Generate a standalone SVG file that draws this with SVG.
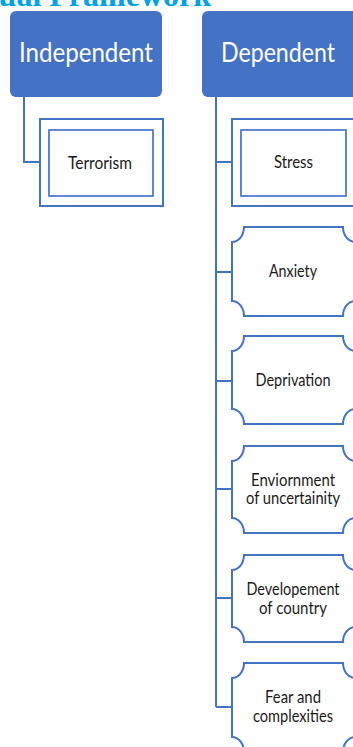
<svg xmlns="http://www.w3.org/2000/svg" width="353" height="747" viewBox="0 0 353 747">
<style>
.hdr{fill:#4472C4}
.ht{fill:#FFFFFF;font-family:Lato,"Noto Sans",sans-serif;font-size:26px;text-anchor:middle}
.box{fill:#FFFFFF;stroke:#4472C4;stroke-width:2}
.inner{fill:none;stroke:#4F7ACB;stroke-width:1.8}
.t{fill:#1A1A1A;font-family:Lato,"Noto Sans",sans-serif;font-size:17px;text-anchor:middle}
.ln{fill:none;stroke:#4472C4;stroke-width:2}
.title{fill:#00A2E8;font-family:"Liberation Serif",serif;font-weight:bold;font-size:32px;text-anchor:end}
</style>
<rect width="353" height="747" fill="#FFFFFF"/>
<text class="title" x="211" y="6">ual Framework</text>
<g id="connectors">
<path class="ln" d="M24,97 V162 H40"/>
<path class="ln" d="M216,97 V707 M216,162 H232 M216,272 H232 M216,381 H232 M216,489 H232 M216,598 H232 M216,707 H232"/>
</g>
<g id="independent">
<rect class="hdr" x="10" y="11" width="152" height="86" rx="6"/>
<text class="ht" x="86" y="62" textLength="134" lengthAdjust="spacingAndGlyphs">Independent</text>
</g>
<g id="dependent">
<rect class="hdr" x="202" y="11" width="156" height="86" rx="6"/>
<text class="ht" x="278" y="62" textLength="114" lengthAdjust="spacingAndGlyphs">Dependent</text>
</g>
<g id="terrorism">
<rect class="box" x="40" y="119" width="123" height="87"/>
<rect class="inner" x="49" y="130" width="104" height="66"/>
<text class="t" x="100" y="169" textLength="64" lengthAdjust="spacingAndGlyphs">Terrorism</text>
</g>
<g id="stress">
<rect class="box" x="232" y="119" width="123" height="87"/>
<rect class="inner" x="241" y="130" width="105" height="66"/>
<text class="t" x="293.5" y="168" textLength="39" lengthAdjust="spacingAndGlyphs">Stress</text>
</g>
<g id="anxiety">
<path class="box" d="M244,227 H343 A12,15 0 0 0 355,242 V301 A12,15 0 0 0 343,316 H244 A12,15 0 0 0 232,301 V242 A12,15 0 0 0 244,227 Z"/>
<text class="t" x="293" y="277" textLength="48" lengthAdjust="spacingAndGlyphs">Anxiety</text>
</g>
<g id="deprivation">
<path class="box" d="M244,336 H343 A12,15 0 0 0 355,351 V409 A12,15 0 0 0 343,424 H244 A12,15 0 0 0 232,409 V351 A12,15 0 0 0 244,336 Z"/>
<text class="t" x="293" y="386" textLength="75" lengthAdjust="spacingAndGlyphs">Deprivation</text>
</g>
<g id="environment">
<path class="box" d="M244,446 H343 A12,15 0 0 0 355,461 V518 A12,15 0 0 0 343,533 H244 A12,15 0 0 0 232,518 V461 A12,15 0 0 0 244,446 Z"/>
<text class="t" x="293" y="485.5" textLength="84" lengthAdjust="spacingAndGlyphs">Enviornment</text>
<text class="t" x="293" y="503.5" textLength="94" lengthAdjust="spacingAndGlyphs">of uncertainity</text>
</g>
<g id="development">
<path class="box" d="M244,555 H343 A12,15 0 0 0 355,570 V627 A12,15 0 0 0 343,642 H244 A12,15 0 0 0 232,627 V570 A12,15 0 0 0 244,555 Z"/>
<text class="t" x="293" y="594.5" textLength="93" lengthAdjust="spacingAndGlyphs">Developement</text>
<text class="t" x="293" y="613.5" textLength="68" lengthAdjust="spacingAndGlyphs">of country</text>
</g>
<g id="fear">
<path class="box" d="M244,663 H343 A12,15 0 0 0 355,678 V737 A12,15 0 0 0 343,752 H244 A12,15 0 0 0 232,737 V678 A12,15 0 0 0 244,663 Z"/>
<text class="t" x="293" y="702.5" textLength="56" lengthAdjust="spacingAndGlyphs">Fear and</text>
<text class="t" x="293" y="721.5" textLength="80" lengthAdjust="spacingAndGlyphs">complexities</text>
</g>
</svg>
